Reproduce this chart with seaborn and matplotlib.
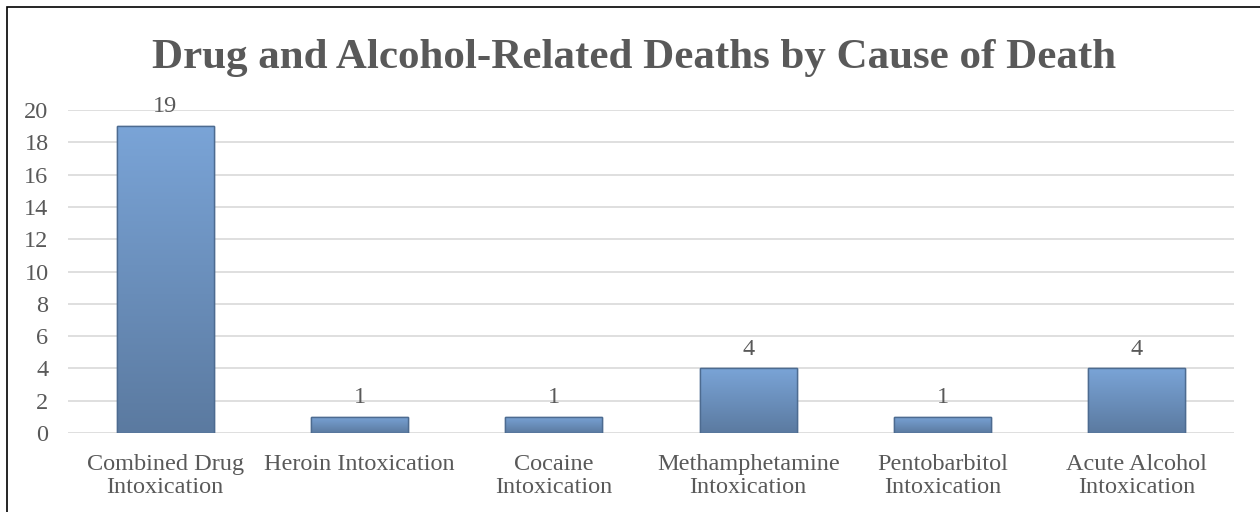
import numpy as np
import pandas as pd
import seaborn as sns
import matplotlib.pyplot as plt
from matplotlib.colors import LinearSegmentedColormap
from matplotlib.patches import Rectangle

causes = ['Combined Drug\nIntoxication', 'Heroin Intoxication', 'Cocaine\nIntoxication',
          'Methamphetamine\nIntoxication', 'Pentobarbitol\nIntoxication', 'Acute Alcohol\nIntoxication']
deaths = [19, 1, 1, 4, 1, 4]

df = pd.DataFrame({'cause': causes, 'deaths': deaths})

sns.set_style('white')
plt.rcParams['font.family'] = ['Liberation Serif', 'DejaVu Serif']
grey = '#595959'

fig = plt.figure(figsize=(12.6, 5.12), dpi=100)
ax = fig.add_axes([68 / 1260, 1 - 433 / 512, (1234 - 68) / 1260, (433 - 110) / 512])

sns.barplot(data=df, x='cause', y='deaths', color='#6f96c6', width=0.5, ax=ax,
            edgecolor='#4f6f96', linewidth=1.0, zorder=3)

# vertical gradient fill in each bar
cmap = LinearSegmentedColormap.from_list('bar', ['#5b7aa0', '#7aa4d7'])
grad = np.linspace(0, 1, 256).reshape(-1, 1)
for p in ax.patches:
    x0, y0 = p.get_x(), p.get_y()
    w, h = p.get_width(), p.get_height()
    im = ax.imshow(grad, cmap=cmap, origin='lower', aspect='auto',
                   extent=[x0, x0 + w, y0, y0 + h], zorder=3.5)
    im.set_clip_path(p)
    ax.add_patch(Rectangle((x0, y0), w, h, fill=False, edgecolor='#4d6b90',
                           linewidth=1.0, zorder=4))
    ax.text(x0 + w / 2, h + 0.55, f'{int(h)}', ha='center', va='bottom',
            fontsize=17.5, color=grey, zorder=5)

ax.set_xlim(-0.5, len(causes) - 0.5)
ax.set_ylim(0, 20)
ax.set_yticks(range(0, 21, 2))
ax.yaxis.grid(True, color='#d9d9d9', linewidth=1.2, zorder=0)
ax.set_axisbelow(True)
for s in ax.spines.values():
    s.set_visible(False)
ax.set_xlabel('')
ax.set_ylabel('')
ax.tick_params(axis='both', length=0, labelsize=17.5, colors=grey)
ax.tick_params(axis='x', pad=15)
ax.tick_params(axis='y', pad=14)
for lbl in ax.get_xticklabels():
    lbl.set_linespacing(1.15)

fig.text(634 / 1260, 1 - 68 / 512, 'Drug and Alcohol-Related Deaths by Cause of Death',
         ha='center', va='baseline', fontsize=31, fontweight='bold', color=grey)

fig.patches.append(Rectangle((7 / 1260, -0.05), 1.1, 1.05 - 7 / 512, fill=False,
                             edgecolor='black', linewidth=1.2, transform=fig.transFigure))

fig.savefig('out.png', dpi=100)
